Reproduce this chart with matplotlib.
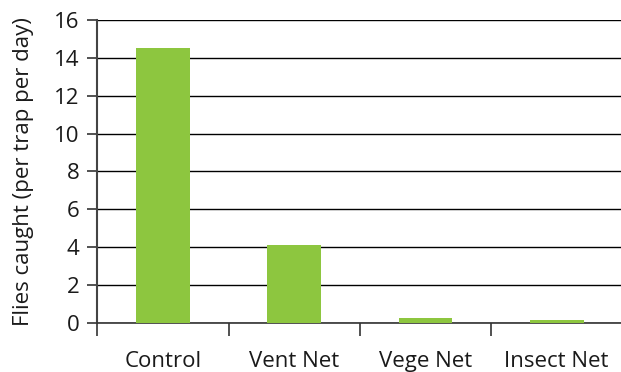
import matplotlib.pyplot as plt
import numpy as np

categories = ["Control", "Vent Net", "Vege Net", "Insect Net"]
flies = [14.52, 4.12, 0.26, 0.16]
yticks = [0, 2, 4, 6, 8, 10, 12, 14, 16]

plt.rcParams['font.family'] = ['Open Sans', 'DejaVu Sans']

fig = plt.figure(figsize=(6.21, 3.72), dpi=100)
ax = fig.add_axes([0.157, 0.132, 0.845, 0.814])

x = np.arange(len(categories))
ax.bar(x, flies, width=0.41, color="#8dc63f", zorder=3)

ax.set_xlim(-0.5, len(categories) - 0.5)
ax.set_ylim(0, 16)
ax.set_yticks(yticks)
ax.yaxis.grid(True, color="black", linewidth=1.0, zorder=0)

# category labels centred, separator ticks at category boundaries
ax.set_xticks(x)
ax.set_xticklabels(categories)
ax.set_xticks(np.arange(-0.5, len(categories)), minor=True)
ax.tick_params(axis='x', which='major', length=0, pad=20, labelsize=16, colors="#1a1a1a")
ax.tick_params(axis='x', which='minor', length=9, width=1.2, color="#333333", direction='out')
ax.tick_params(axis='y', length=7, width=1.2, color="#333333", labelsize=16, labelcolor="#1a1a1a", pad=6)

for side in ['top', 'right']:
    ax.spines[side].set_visible(False)
ax.spines['left'].set_color("#444444")
ax.spines['left'].set_linewidth(1.5)
ax.spines['bottom'].set_color("#333333")
ax.spines['bottom'].set_linewidth(1.2)

ax.set_ylabel("Flies caught (per trap per day)", fontsize=16, color="#1a1a1a", labelpad=14)

fig.savefig("out.png", dpi=100)
